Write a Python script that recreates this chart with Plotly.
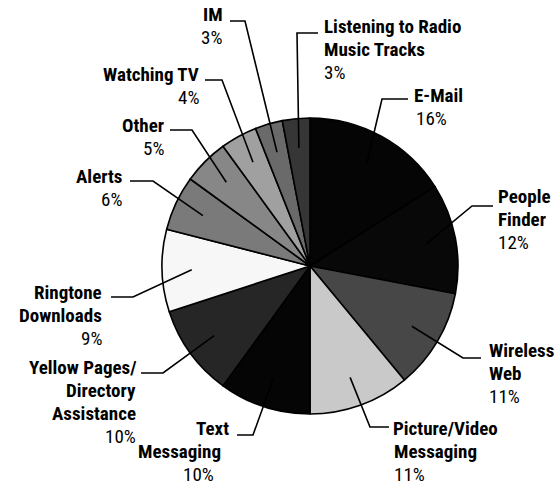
import math
import plotly.graph_objects as go

# Share of mobile data usage by activity (percent)
activities = [
    "E-Mail", "People Finder", "Wireless Web", "Picture/Video Messaging",
    "Text Messaging", "Yellow Pages/Directory Assistance", "Ringtone Downloads",
    "Alerts", "Other", "Watching TV", "IM", "Listening to Radio Music Tracks",
]
shares = [16, 12, 11, 11, 10, 10, 9, 6, 5, 4, 3, 3]

# Label text broken into display lines
label_lines = [
    ["E-Mail"], ["People", "Finder"], ["Wireless", "Web"],
    ["Picture/Video", "Messaging"], ["Text", "Messaging"],
    ["Yellow Pages/", "Directory", "Assistance"], ["Ringtone", "Downloads"],
    ["Alerts"], ["Other"], ["Watching TV"], ["IM"],
    ["Listening to Radio", "Music Tracks"],
]

# Greyscale fills for the slices
fills = [
    "#050505", "#080808", "#474747", "#c9c9c9", "#050505", "#262626",
    "#f7f7f7", "#7a7a7a", "#878787", "#a0a0a0", "#6a6a6a", "#363636",
]

W, H = 558, 491
CX, CY, R = 310, 266, 148

# Label placement (pixel space): x per line, anchor, y per line, elbow, end of leader
placement = [
    dict(x=[413, 415], anchor="left", y=[95, 118], elbow=(382, 99), end=(408, 99)),
    dict(x=[497, 497, 497], anchor="left", y=[196, 219, 242], elbow=(472, 206), end=(493, 206)),
    dict(x=[488, 488, 488], anchor="left", y=[350, 373, 396], elbow=(463, 358), end=(481, 358)),
    dict(x=[392, 393, 393], anchor="left", y=[428, 451, 474], elbow=(370, 427), end=(389, 427)),
    dict(x=[230, 222, 215], anchor="right", y=[428, 451, 474], elbow=(253, 435), end=(237, 435)),
    dict(x=[137, 137, 137, 137], anchor="right", y=[367, 390, 413, 436], elbow=(163, 373), end=(141, 373)),
    dict(x=[103, 103, 103], anchor="right", y=[292, 315, 338], elbow=(133, 297), end=(111, 297)),
    dict(x=[123, 123], anchor="right", y=[176, 199], elbow=(153, 181), end=(130, 181)),
    dict(x=[165, 165], anchor="right", y=[125, 148], elbow=(192, 130), end=(170, 130)),
    dict(x=[200, 200], anchor="right", y=[74, 97], elbow=(222, 80), end=(205, 80)),
    dict(x=[224, 223], anchor="right", y=[14, 37], elbow=(245, 21), end=(230, 21)),
    dict(x=[323, 323, 323], anchor="left", y=[26, 49, 72], elbow=(297, 33), end=(318, 33)),
]

FONT = "'Roboto Condensed', 'Liberation Sans Narrow', 'DejaVu Sans Condensed', Arial, sans-serif"

fig = go.Figure()
fig.add_trace(go.Pie(
    labels=activities,
    values=shares,
    sort=False,
    direction="clockwise",
    rotation=0,
    textinfo="none",
    hoverinfo="label+percent",
    marker=dict(colors=fills, line=dict(color="#000000", width=1.6)),
    domain=dict(x=[(CX - R) / W, (CX + R) / W], y=[1 - (CY + R) / H, 1 - (CY - R) / H]),
    showlegend=False,
))

annotations = []
shapes = []
total = sum(shares)
cum = 0.0
for lines, v, p in zip(label_lines, shares, placement):
    mid = (cum + v / 2) / total * 2 * math.pi
    cum += v
    # leader starts inside the slice along its mid-angle
    sx = CX + 0.8 * R * math.sin(mid)
    sy = CY - 0.8 * R * math.cos(mid)
    ex, ey = p["elbow"]
    tx, ty = p["end"]
    shapes.append(dict(
        type="path", xref="x", yref="y",
        path=f"M {sx:.1f},{sy:.1f} L {ex},{ey} L {tx},{ty}",
        line=dict(color="#000000", width=1.6),
        layer="above",
    ))
    texts = [f"<b>{t}</b>" for t in lines] + [f"{v}%"]
    for t, x, y in zip(texts, p["x"], p["y"]):
        annotations.append(dict(
            x=x, y=y, xref="x", yref="y", text=t, showarrow=False,
            xanchor=p["anchor"], yanchor="middle", borderpad=0,
            font=dict(family=FONT, size=19, color="#000000"),
        ))

fig.update_layout(
    width=W, height=H,
    margin=dict(l=0, r=0, t=0, b=0),
    paper_bgcolor="#ffffff", plot_bgcolor="rgba(0,0,0,0)",
    xaxis=dict(range=[0, W], visible=False, fixedrange=True),
    yaxis=dict(range=[H, 0], visible=False, fixedrange=True),
    annotations=annotations,
    shapes=shapes,
)

fig.write_html("out.html")
